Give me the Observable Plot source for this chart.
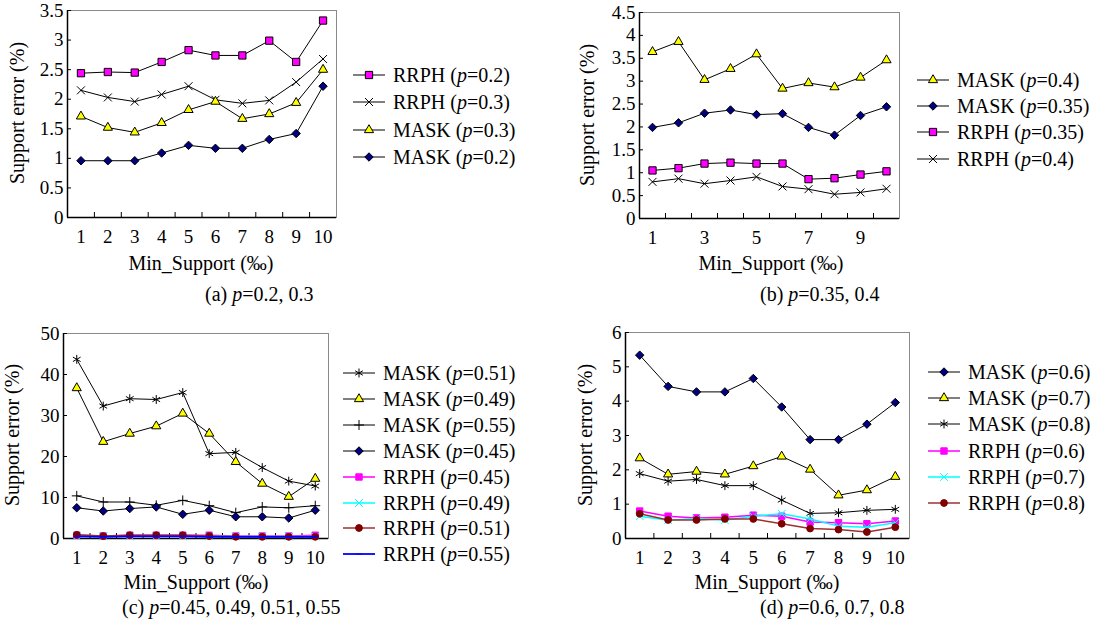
<!DOCTYPE html>
<html><head><meta charset="utf-8">
<script src="https://cdn.jsdelivr.net/npm/d3@7"></script>
<script src="https://cdn.jsdelivr.net/npm/@observablehq/plot@0.6"></script>
<style>
html,body{margin:0;background:#fff;font-family:'Liberation Serif',serif;}
#root{position:relative;width:1102px;height:629px;overflow:hidden;font-family:'Liberation Serif',serif;color:#000;background:#fff;}
.abs{position:absolute;white-space:nowrap;font-size:20px;line-height:1;font-family:'Liberation Serif',serif;}
.c{transform:translate(-50%,-50%);}
.r{transform:translate(-50%,-50%) rotate(-90deg);}
.leg{display:flex;align-items:center;transform:translateY(-50%);}
.leg svg{margin-right:8px;overflow:visible;}
svg.plot{position:absolute;overflow:visible;}
svg.plot text{font-family:'Liberation Serif',serif;}
</style></head><body><div id="root"></div>
<script>
// ---------- data ----------
const minSupport = [1, 2, 3, 4, 5, 6, 7, 8, 9, 10];
const xLabelsAll = [1, 2, 3, 4, 5, 6, 7, 8, 9, 10];
const xLabelsOdd = [1, 3, 5, 7, 9];

// (a) p = 0.2, 0.3
const aRRPH02 = [2.44, 2.46, 2.45, 2.63, 2.83, 2.74, 2.74, 2.99, 2.63, 3.33];
const aRRPH03 = [2.15, 2.03, 1.96, 2.08, 2.22, 1.99, 1.93, 1.98, 2.29, 2.68];
const aMASK03 = [1.71, 1.52, 1.44, 1.60, 1.82, 1.96, 1.67, 1.75, 1.94, 2.50];
const aMASK02 = [0.96, 0.96, 0.96, 1.09, 1.22, 1.17, 1.17, 1.32, 1.42, 2.22];
const aYTicks = [0, 0.5, 1, 1.5, 2, 2.5, 3, 3.5];

// (b) p = 0.35, 0.4
const bMASK04 = [3.64, 3.86, 3.03, 3.27, 3.59, 2.84, 2.96, 2.87, 3.08, 3.46];
const bMASK035 = [1.99, 2.09, 2.30, 2.37, 2.27, 2.29, 1.99, 1.82, 2.25, 2.44];
const bRRPH035 = [1.05, 1.10, 1.20, 1.22, 1.20, 1.20, 0.86, 0.88, 0.96, 1.03];
const bRRPH04 = [0.80, 0.87, 0.76, 0.83, 0.91, 0.70, 0.64, 0.53, 0.57, 0.65];
const bYTicks = [0, 0.5, 1, 1.5, 2, 2.5, 3, 3.5, 4, 4.5];

// (c) p = 0.45, 0.49, 0.51, 0.55
const cMASK051 = [43.7, 32.3, 34.1, 33.9, 35.6, 20.7, 21.0, 17.3, 14.0, 12.8];
const cMASK049 = [36.7, 23.6, 25.6, 27.4, 30.5, 25.6, 18.7, 13.4, 10.2, 14.6];
const cMASK055 = [10.4, 8.9, 8.9, 8.1, 9.3, 8.0, 6.3, 7.7, 7.5, 8.0];
const cMASK045 = [7.5, 6.7, 7.3, 7.7, 5.9, 6.9, 5.3, 5.3, 5.0, 6.9];
const cRRPH045 = [0.8, 0.6, 0.8, 0.8, 0.8, 0.8, 0.6, 0.6, 0.6, 0.8];
const cRRPH049 = [0.6, 0.5, 0.6, 0.6, 0.6, 0.6, 0.5, 0.5, 0.5, 0.5];
const cRRPH051 = [0.9, 0.6, 0.8, 0.8, 0.8, 0.6, 0.4, 0.4, 0.4, 0.4];
const cRRPH055 = [0.5, 0.4, 0.5, 0.5, 0.5, 0.4, 0.4, 0.4, 0.4, 0.4];
const cYTicks = [0, 10, 20, 30, 40, 50];

// (d) p = 0.6, 0.7, 0.8
const dMASK06 = [5.34, 4.43, 4.27, 4.27, 4.66, 3.83, 2.88, 2.88, 3.33, 3.96];
const dMASK07 = [2.34, 1.87, 1.95, 1.87, 2.11, 2.39, 2.01, 1.26, 1.41, 1.80];
const dMASK08 = [1.89, 1.67, 1.72, 1.54, 1.54, 1.12, 0.73, 0.75, 0.82, 0.85];
const dRRPH06 = [0.80, 0.65, 0.60, 0.62, 0.68, 0.65, 0.48, 0.46, 0.43, 0.51];
const dRRPH07 = [0.65, 0.53, 0.58, 0.53, 0.65, 0.72, 0.57, 0.36, 0.33, 0.46];
const dRRPH08 = [0.72, 0.54, 0.54, 0.57, 0.57, 0.43, 0.29, 0.26, 0.19, 0.33];
const dYTicks = [0, 1, 2, 3, 4, 5, 6];

const yTitle = "Support error (%)";
const xTitle = "Min_Support (\u2030)";

// ---------- styles ----------
const minus = {draw(ctx, size) { const r = Math.sqrt(size) * 0.55; ctx.moveTo(-r, 0); ctx.lineTo(r, 0); }};
const ST = {
  sqBlack:  {symbol: "square",   fill: "#FF00FF", stroke: "#000", line: "#000", lw: 1, r: 4.1},
  timesBlk: {symbol: "times",    fill: "none",    stroke: "#000", line: "#000", lw: 1, r: 3.7},
  triYel:   {symbol: "triangle", fill: "#FFFF00", stroke: "#000", line: "#000", lw: 1, r: 3.4},
  diaNavy:  {symbol: "diamond2", fill: "#000080", stroke: "#000", line: "#000", lw: 1, r: 3.8},
  astBlk:   {symbol: "asterisk", fill: "none",    stroke: "#000", line: "#000", lw: 1, r: 4.2},
  plusBlk:  {symbol: "plus",     fill: "none",    stroke: "#000", line: "#000", lw: 1, r: 3.3},
  sqMag:    {symbol: "square",   fill: "#FF00FF", stroke: "#FF00FF", line: "#FF00FF", lw: 1.5, r: 3.6},
  timesCy:  {symbol: "times",    fill: "none",    stroke: "#00FFFF", line: "#00FFFF", lw: 1.5, r: 3.6},
  circRed:  {symbol: "circle",   fill: "#800000", stroke: "#800000", line: "#A03030", lw: 1.5, r: 3.4},
  minusBl:  {symbol: minus,      fill: "none",    stroke: "#0000FF", line: "#0000FF", lw: 1.8, r: 3.4}
};
const d3Sym = {square: d3.symbolSquare, times: d3.symbolTimes, triangle: d3.symbolTriangle,
  diamond2: d3.symbolDiamond2, asterisk: d3.symbolAsterisk, plus: d3.symbolPlus, circle: d3.symbolCircle};

const panels = [
  {id: "a", svg: {left: 0, top: 0, width: 345, height: 250, mL: 67, mT: 10, mR: 9, mB: 33},
   yDomain: [0, 3.5], yTicks: aYTicks, xLabels: xLabelsAll,
   series: [["RRPH", "0.2", aRRPH02, ST.sqBlack], ["RRPH", "0.3", aRRPH03, ST.timesBlk],
            ["MASK", "0.3", aMASK03, ST.triYel], ["MASK", "0.2", aMASK02, ST.diaNavy]],
   yTitleAt: [17, 113], xTitleAt: [201, 263], caption: ["(a) ", "=0.2, 0.3"], capAt: [205, 294],
   legend: {x: 353, y0: 75, dy: 27.3}},
  {id: "b", svg: {left: 560, top: 0, width: 350, height: 250, mL: 79, mT: 12, mR: 11, mB: 32},
   yDomain: [0, 4.5], yTicks: bYTicks, xLabels: xLabelsOdd,
   series: [["MASK", "0.4", bMASK04, ST.triYel], ["MASK", "0.35", bMASK035, ST.diaNavy],
            ["RRPH", "0.35", bRRPH035, ST.sqBlack], ["RRPH", "0.4", bRRPH04, ST.timesBlk]],
   yTitleAt: [587, 115], xTitleAt: [771, 263], caption: ["(b) ", "=0.35, 0.4"], capAt: [760, 294],
   legend: {x: 917, y0: 80, dy: 26.2}},
  {id: "c", svg: {left: 0, top: 320, width: 340, height: 250, mL: 63, mT: 13, mR: 12, mB: 32},
   yDomain: [0, 50], yTicks: cYTicks, xLabels: xLabelsAll,
   series: [["MASK", "0.51", cMASK051, ST.astBlk], ["MASK", "0.49", cMASK049, ST.triYel],
            ["MASK", "0.55", cMASK055, ST.plusBlk], ["MASK", "0.45", cMASK045, ST.diaNavy],
            ["RRPH", "0.45", cRRPH045, ST.sqMag], ["RRPH", "0.49", cRRPH049, ST.timesCy],
            ["RRPH", "0.51", cRRPH051, ST.circRed], ["RRPH", "0.55", cRRPH055, ST.minusBl]],
   yTitleAt: [12, 435], xTitleAt: [196, 582], caption: ["(c) ", "=0.45, 0.49, 0.51, 0.55"], capAt: [122, 607],
   legend: {x: 343, y0: 373, dy: 25.9}},
  {id: "d", svg: {left: 560, top: 320, width: 360, height: 250, mL: 65, mT: 12, mR: 11, mB: 32},
   yDomain: [0, 6], yTicks: dYTicks, xLabels: xLabelsAll,
   series: [["MASK", "0.6", dMASK06, ST.diaNavy], ["MASK", "0.7", dMASK07, ST.triYel],
            ["MASK", "0.8", dMASK08, ST.astBlk], ["RRPH", "0.6", dRRPH06, ST.sqMag],
            ["RRPH", "0.7", dRRPH07, ST.timesCy], ["RRPH", "0.8", dRRPH08, ST.circRed]],
   yTitleAt: [585, 435], xTitleAt: [767, 582], caption: ["(d) ", "=0.6, 0.7, 0.8"], capAt: [760, 607],
   legend: {x: 928, y0: 372, dy: 26.2}}
];

const root = document.getElementById("root");
const FONT = "'Liberation Serif', serif";
const xDomain = [minSupport[0] - 0.5, minSupport[minSupport.length - 1] + 0.5];
const xBounds = minSupport.slice(0, -1).map(v => v + 0.5);

function addDiv(cls, html, x, y) {
  const d = document.createElement("div");
  d.className = "abs " + cls;
  d.innerHTML = html;
  d.style.left = x + "px"; d.style.top = y + "px";
  d.style.fontFamily = FONT;
  root.appendChild(d);
  return d;
}

for (const p of panels) {
  const s = p.svg;
  const marks = [
    Plot.frame({stroke: "#8a8a8a", strokeWidth: 1}),
    Plot.ruleY([p.yDomain[0]], {stroke: "#000", strokeWidth: 1.5}),
    Plot.ruleX([xDomain[0]], {stroke: "#000", strokeWidth: 1.5}),
    Plot.axisY(p.yTicks, {tickSize: -4, tickPadding: 8, tickFormat: d => String(d), fontSize: 19, label: null}),
    Plot.axisX(p.xLabels, {tickSize: 0, tickPadding: 12, tickFormat: d => String(d), fontSize: 19, label: null}),
    Plot.axisX(xBounds, {tickSize: -5, tickFormat: () => "", label: null})
  ];
  for (const [method, pv, vals, st] of p.series) {
    const rows = vals.map((v, j) => ({x: minSupport[j], y: v}));
    marks.push(Plot.line(rows, {x: "x", y: "y", stroke: st.line, strokeWidth: st.lw}));
    marks.push(Plot.dot(rows, {x: "x", y: "y", symbol: st.symbol, r: st.r, fill: st.fill, stroke: st.stroke, strokeWidth: 1}));
  }
  const chart = Plot.plot({
    width: s.width, height: s.height,
    marginLeft: s.mL, marginTop: s.mT, marginRight: s.mR, marginBottom: s.mB,
    x: {type: "linear", domain: xDomain},
    y: {type: "linear", domain: p.yDomain},
    style: {fontFamily: FONT, fontSize: "19px", color: "#000", background: "transparent", overflow: "visible"},
    marks
  });
  chart.classList.add("plot");
  chart.style.left = s.left + "px"; chart.style.top = s.top + "px";
  chart.style.fontFamily = FONT;
  root.appendChild(chart);

  addDiv("r", yTitle, p.yTitleAt[0], p.yTitleAt[1]);
  addDiv("c", xTitle, p.xTitleAt[0], p.xTitleAt[1]);
  const cap = addDiv("", p.caption[0] + "<i>p</i>" + p.caption[1], p.capAt[0], p.capAt[1]);
  cap.style.transform = "translateY(-50%)";

  // legend
  p.series.forEach(([method, pv, vals, st], i) => {
    const w = 32, h = 16;
    let sym;
    if (typeof st.symbol === "string") sym = d3.symbol(d3Sym[st.symbol], Math.PI * st.r * st.r)();
    else { const path = d3.path(); st.symbol.draw(path, Math.PI * st.r * st.r); sym = path.toString(); }
    const svg = `<svg width="${w}" height="${h}"><line x1="0" x2="${w}" y1="${h/2}" y2="${h/2}" stroke="${st.line}" stroke-width="${st.lw}"/>` +
      `<path transform="translate(${w/2},${h/2})" d="${sym}" fill="${st.fill}" stroke="${st.stroke}" stroke-width="1"/></svg>`;
    addDiv("leg", svg + `<span>${method} (<i>p</i>=${pv})</span>`, p.legend.x, p.legend.y0 + i * p.legend.dy);
  });
}
</script></body></html>
